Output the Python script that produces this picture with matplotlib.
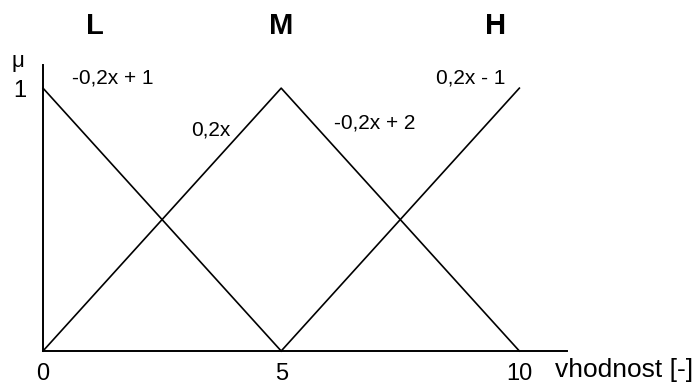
import matplotlib.pyplot as plt

plt.rcParams['font.family'] = ['Liberation Sans', 'DejaVu Sans']

# membership functions of "vhodnost"
low_x = [0, 5]
low_y = [1, 0]
mid_x = [0, 5, 10]
mid_y = [0, 1, 0]
high_x = [5, 10]
high_y = [0, 1]

set_names = ['L', 'M', 'H']
set_name_x = [1.1, 5.0, 9.5]

formulas = ['-0,2x + 1', '0,2x', '-0,2x + 2', '0,2x - 1']
formula_x = [0.6, 3.1, 6.1, 8.25]
formula_y = [1.037, 0.84, 0.867, 1.04]

fig = plt.figure(figsize=(6.96, 3.85), dpi=100)
ax = fig.add_axes([43 / 696, 34 / 385, 524 / 696, 286 / 385])

for xs, ys in [(low_x, low_y), (mid_x, mid_y), (high_x, high_y)]:
    ax.plot(xs, ys, color='black', lw=1.2, clip_on=False)

ax.set_xlim(0, 11)
ax.set_ylim(0, 1.088)
for s in ['top', 'right']:
    ax.spines[s].set_visible(False)
for s in ['left', 'bottom']:
    ax.spines[s].set_linewidth(1.4)
ax.set_xticks([0, 5, 10])
ax.set_yticks([1])
ax.tick_params(length=0, labelsize=17, pad=9)
ax.tick_params(axis='y', pad=12)

for name, x in zip(set_names, set_name_x):
    ax.text(x, 1.235, name, ha='center', va='center', fontsize=21,
            fontweight='bold', clip_on=False)

for t, x, y in zip(formulas, formula_x, formula_y):
    ax.text(x, y, t, ha='left', va='center', fontsize=15, clip_on=False)

fig.text(18 / 696, 1 - 62 / 385, 'μ', ha='center', va='center', fontsize=16)
fig.text(555 / 696, 1 - 370 / 385, 'vhodnost [-]', ha='left', va='center',
         fontsize=19)

fig.savefig('out.png', dpi=100)
